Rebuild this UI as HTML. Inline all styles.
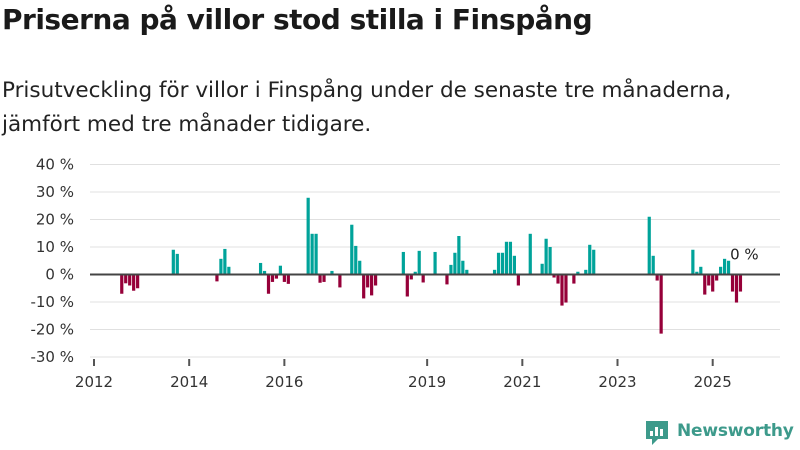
<!DOCTYPE html>
<html><head><meta charset="utf-8"><style>
body{margin:0;background:#fff;font-family:"Liberation Sans","DejaVu Sans",sans-serif;}
#wrap{position:relative;width:800px;height:450px;overflow:hidden;}
h1{position:absolute;left:2px;top:3px;margin:0;font-size:28px;font-weight:bold;color:#1a1a1a;font-family:"DejaVu Sans","Liberation Sans",sans-serif;letter-spacing:-0.5px}
#sub{position:absolute;left:2px;top:74px;margin:0;font-size:21.5px;line-height:34px;color:#222;font-family:"DejaVu Sans","Liberation Sans",sans-serif;}
svg text{font-family:"DejaVu Sans","Liberation Sans",sans-serif;}
</style></head><body><div id="wrap">
<h1>Priserna på villor stod stilla i Finspång</h1>
<p id="sub">Prisutveckling för villor i Finspång under de senaste tre månaderna,<br>jämfört med tre månader tidigare.</p>
<svg id="chart" width="800" height="450" style="position:absolute;left:0;top:0"></svg>
<div style="position:absolute;left:644px;top:419px;width:26px;height:26px">
<svg width="26" height="28"><path d="M2 2h22v18h-10l-6 6v-6h-6z" fill="#3d9a8b"/><rect x="6" y="12" width="3" height="5" fill="#fff"/><rect x="11" y="8" width="3" height="9" fill="#fff"/><rect x="16" y="10" width="3" height="7" fill="#fff"/></svg></div>
<div style="position:absolute;left:677px;top:421px;font-size:17px;font-weight:bold;color:#3d9a8b;font-family:'DejaVu Sans','Liberation Sans',sans-serif;letter-spacing:-0.2px">Newsworthy</div>
</div>
<script>
const months=[7,8,9,10,11,20,21,31,32,33,34,42,43,44,45,46,47,48,49,54,55,56,57,58,60,62,65,66,67,68,69,70,71,78,79,80,81,82,83,86,89,90,91,92,93,94,101,102,103,104,105,106,107,110,113,114,115,116,117,118,119,121,122,124,125,126,140,141,142,143,151,152,153,154,155,156,157,158,159,160,161,162,163,164];
const values=[-7,-3.2,-4,-5.9,-5,9,7.5,-2.5,5.7,9.3,2.8,4.2,1.3,-7,-2.7,-1.5,3.2,-2.7,-3.4,27.9,14.8,14.8,-3,-2.7,1.3,-4.7,18.1,10.4,5,-8.7,-4.7,-7.6,-4,8.2,-8,-1.8,1,8.6,-2.9,8.2,-3.6,3.5,7.9,14,5,1.7,1.7,7.9,7.9,11.9,11.9,6.8,-4,14.8,3.9,13,10,-1.1,-3.3,-11.3,-10.2,-3.3,1,1.7,10.8,9,21,6.8,-2.2,-21.5,9,1,2.8,-7.3,-4,-6.2,-2.2,2.8,5.7,5,-6.2,-10.2,-6.2,0];
const yTicks=[40,30,20,10,0,-10,-20,-30];
const xTickLabels=["2012","2014","2016","2019","2021","2023","2025"];
const xTickMonths=[0,24,48,84,108,132,156];
const lastLabel="0 %";
const NS="http://www.w3.org/2000/svg";
const svg=document.getElementById('chart');
const x=m=>94+m*3.966;
const y=v=>274.5-v*2.75;
function mk(t,a){const e=document.createElementNS(NS,t);for(const k in a)e.setAttribute(k,a[k]);svg.appendChild(e);return e;}
yTicks.forEach(v=>{
 const l=mk('line',{x1:90,x2:780,y1:y(v),y2:y(v),stroke:'#e0e0e0','stroke-width':1});
 
 
 const t=mk('text',{x:74,y:y(v)+5,'text-anchor':'end','font-size':15,fill:'#333'});
 t.textContent=v+' %';
 
 
});
months.forEach((m,i)=>{
 const v=values[i];if(v===0)return;
 const r=mk('rect',{x:x(m)-1.6,width:3.2,y:Math.min(y(v),y(0)),height:Math.abs(y(v)-y(0)),fill:v>0?'#00a39a':'#960039'});
 
 
});
const z=mk('line',{x1:90,x2:780,y1:y(0),y2:y(0),stroke:'#444','stroke-width':2});


xTickMonths.forEach((m,i)=>{
 const tk=mk('line',{x1:x(m),x2:x(m),y1:359,y2:366,stroke:'#555','stroke-width':2});
 
 
 const t=mk('text',{x:x(m),y:387,'text-anchor':'middle','font-size':15,fill:'#333'});
 t.textContent=xTickLabels[i];
 
 
});
const lm=months[months.length-1],lv=values[values.length-1];
const lb=mk('text',{x:x(lm),y:y(lv)-15,'text-anchor':'middle','font-size':15,fill:'#222'});
lb.textContent=lastLabel;


</script>
</body></html>
